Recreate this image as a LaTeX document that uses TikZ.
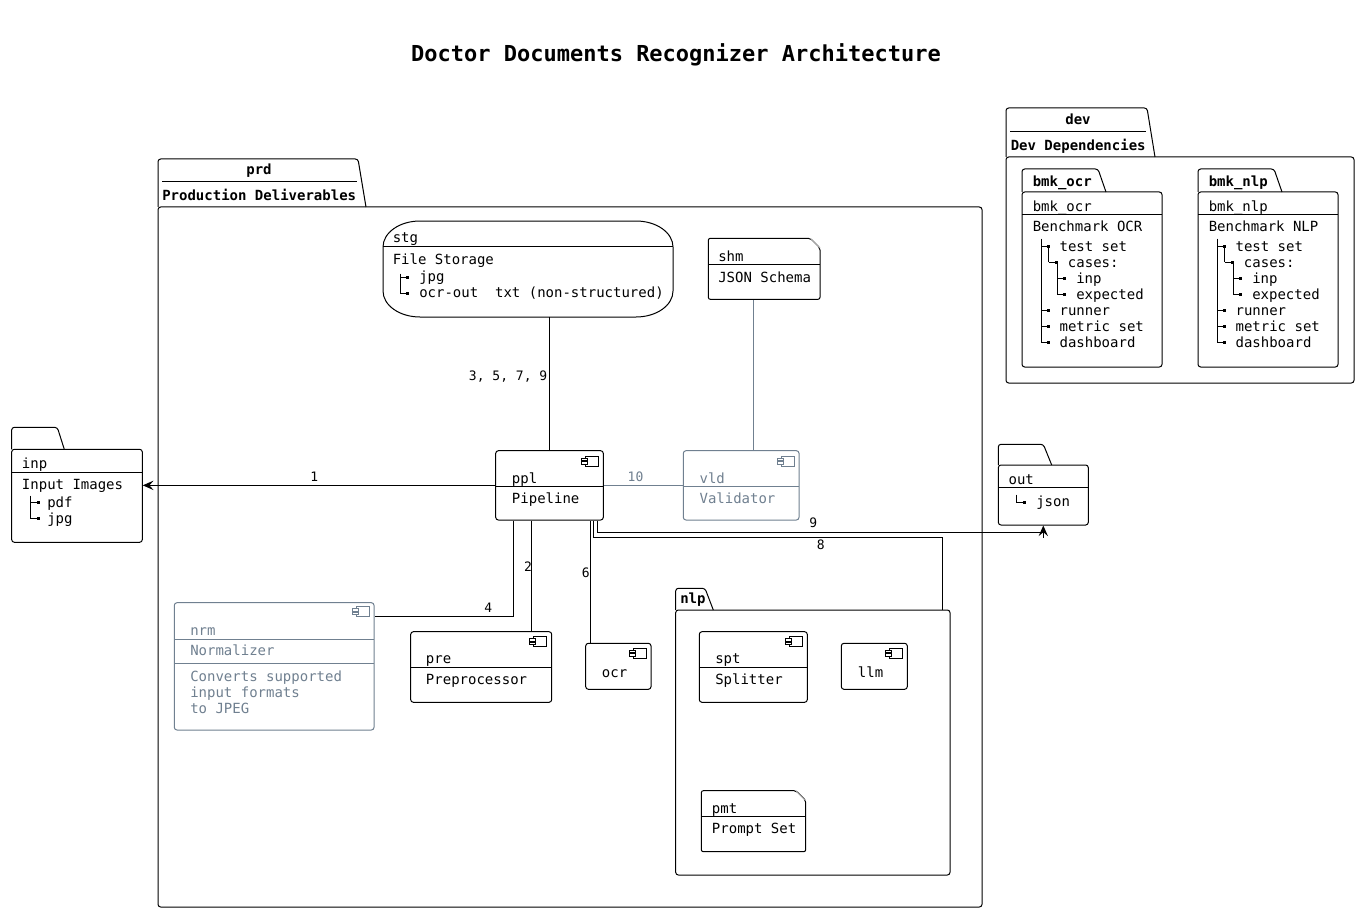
\documentclass[tikz,border=0pt]{standalone}
\usepackage{fontspec}
\setmainfont{DejaVu Sans Mono}
\setmonofont{DejaVu Sans Mono}
\usetikzlibrary{fit,calc,arrows.meta}
\definecolor{slate}{HTML}{708090}
\tikzset{
  txt/.style={inner sep=0pt, anchor=base west, font=\fontsize{10.5}{12}\selectfont},
  btxt/.style={inner sep=0pt, anchor=base west, font=\fontsize{10.5}{12}\selectfont\bfseries},
  lbl/.style={inner sep=0pt, anchor=base, font=\fontsize{9.75}{11}\selectfont},
  ln/.style={line width=0.75pt},
  box/.style={draw, line width=0.75pt, rounded corners=2pt, inner sep=0pt},
  pkgbody/.style={draw, line width=0.75pt, rounded corners=2pt, inner sep=0pt},
  arr/.style={-{Stealth[length=8pt,width=7pt,inset=3pt]}}
}
% component icon, #2,#3 = top-right corner of icon
\newcommand\ficon[3][black]{%
  \draw[#1, line width=0.6pt, fill=white] (#2-13,#3) rectangle (#2,#3+10);
  \draw[#1, line width=0.6pt, fill=white] (#2-17,#3+2) rectangle (#2-11,#3+4.5);
  \draw[#1, line width=0.6pt, fill=white] (#2-17,#3+5.5) rectangle (#2-11,#3+8);
}
\newcommand\bul[2]{\fill (#1-1.5,#2-1.5) rectangle (#1+1.5,#2+1.5);}
\newcommand\trtick[3]{\draw[ln] (#1,#3) -- (#2,#3); \bul{#2+0.5}{#3}}
\newcommand\bmkpkg[4]{%
\begin{scope}[shift={(#1,0)}]
  \draw[ln, rounded corners=2pt] (1022,192) rectangle (1162,367);
  \draw[ln, rounded corners=2pt] (1022,192) -- (1022,169) -- (1098,169) -- (1106,192);
  \node[btxt] (#2tab) at (1032.5,186) {#3};
  \node[txt] (#2name) at (1032.5,211) {#3};
  \draw[ln] (1022,214.3) -- (1162,214.3);
  \node[txt] (#2desc) at (1032.5,232) {#4};
  \draw[ln] (1041,238.5) -- (1041,342.2);
  \trtick{1041}{1047.5}{246.2}
  \trtick{1041}{1047.5}{310.2}
  \trtick{1041}{1047.5}{326.2}
  \trtick{1041}{1047.5}{342.2}
  \draw[ln] (1048.5,247) -- (1048.5,262.2);
  \trtick{1048.5}{1055.5}{262.2}
  \draw[ln] (1057,263) -- (1057,294.2);
  \trtick{1057}{1063.5}{278.2}
  \trtick{1057}{1063.5}{294.2}
  \node[txt] (#2a) at (1059.3,251.2) {test set};
  \node[txt] (#2b) at (1067.7,267.2) {cases:};
  \node[txt] (#2c) at (1076,283.2) {inp};
  \node[txt] (#2d) at (1076,299.2) {expected};
  \node[txt] (#2e) at (1059.3,315.2) {runner};
  \node[txt] (#2f) at (1059.3,331.2) {metric set};
  \node[txt] (#2g) at (1059.3,347.2) {dashboard};
\end{scope}}
\begin{document}
\begin{tikzpicture}[x=0.75pt,y=-0.75pt]
\useasboundingbox[fill=white] (0,0) rectangle (1360,913);

% title
\node[inner sep=0pt, anchor=base, font=\fontsize{16.5}{20}\selectfont\bfseries] (title) at (676,61.5) {Doctor Documents Recognizer Architecture};

% ---------- prd package
\node[pkgbody, fit={(158,207) (982,907)}] (prd) {};
\draw[ln, rounded corners=2pt] (158,207) -- (158,159) -- (358,159) -- (366,207);
\node[btxt, anchor=base] (prdname) at (259,175) {prd};
\draw[ln] (162,182) -- (357,182);
\node[btxt] (prdlabel) at (162,200.3) {Production Deliverables};

% ---------- dev package
\node[pkgbody, fit={(1006,157) (1354,383)}] (dev) {};
\draw[ln, rounded corners=2pt] (1006,157) -- (1006,108) -- (1147,108) -- (1155,157);
\node[btxt, anchor=base] (devname) at (1078,124.5) {dev};
\draw[ln] (1010,132) -- (1146,132);
\node[btxt] (devlabel) at (1010.5,150.5) {Dev Dependencies};

\bmkpkg{0}{bo}{bmk\_ocr}{Benchmark OCR}
\bmkpkg{176}{bn}{bmk\_nlp}{Benchmark NLP}

% ---------- stg
\node[inner sep=0pt, fit={(383,221) (673,317)}] (stg) {};
\draw[ln] (420,221) -- (636,221) .. controls (656.4,221) and (673,232.6) .. (673,247)
  -- (673,291) .. controls (673,305.4) and (656.4,317) .. (636,317)
  -- (420,317) .. controls (399.6,317) and (383,305.4) .. (383,291)
  -- (383,247) .. controls (383,232.6) and (399.6,221) .. (420,221) -- cycle;
\draw[ln] (383,246.5) -- (673,246.5);
\node[txt] (stgname) at (392.5,243) {stg};
\node[txt] (stgdesc) at (392.5,264.3) {File Storage};
\draw[ln] (400.5,273.5) -- (400.5,293.5);
\trtick{400.5}{407}{277.5}
\trtick{400.5}{407}{293.5}
\node[txt] (stga) at (419,281.5) {jpg};
\node[txt] (stgb) at (419,297.5) {ocr-out~~txt (non-structured)};

% ---------- shm document
\node[inner sep=0pt, fit={(708.3,238.3) (820,299.3)}] (shm) {};
\draw[ln, rounded corners=1.5pt] (810.3,238.3) -- (820,248) -- (820,299.3) -- (708.3,299.3) -- (708.3,238.3) -- cycle;
\draw[line width=0.6pt, black!35] (810.3,238.3) -- (820,248);
\draw[ln] (708.3,264.5) -- (820,264.5);
\node[txt] (shmname) at (718,262) {shm};
\node[txt] (shmdesc) at (718,282.5) {JSON Schema};

% ---------- ppl
\node[box, fit={(495.7,450.7) (603.3,520)}] (ppl) {};
\draw[ln] (495.7,486.7) -- (603.3,486.7);
\ficon{598.3}{456}
\node[txt] (pplname) at (511.7,483.3) {ppl};
\node[txt] (ppldesc) at (511.7,503) {Pipeline};

% ---------- vld
\node[box, draw=slate, fit={(683.3,450.7) (799,520)}] (vld) {};
\draw[ln, slate] (683.3,486.7) -- (799,486.7);
\ficon[slate]{794.3}{456}
\node[txt, text=slate] (vldname) at (699.3,483.3) {vld};
\node[txt, text=slate] (vlddesc) at (699.3,503) {Validator};

% ---------- inp package
\node[pkgbody, fit={(11.7,449.3) (142.3,542.3)}] (inp) {};
\draw[ln, rounded corners=2pt] (11.7,449.3) -- (11.7,427.3) -- (57.3,427.3) -- (64.3,449.3);
\draw[ln] (11.7,472.3) -- (142.3,472.3);
\node[txt] (inpname) at (21.7,468.7) {inp};
\node[txt] (inpdesc) at (21.7,489.3) {Input Images};
\draw[ln] (30.5,495.5) -- (30.5,518.5);
\trtick{30.5}{37.5}{502.5}
\trtick{30.5}{37.5}{518.5}
\node[txt] (inpa) at (47,507) {pdf};
\node[txt] (inpb) at (47,523) {jpg};

% ---------- out package
\node[pkgbody, fit={(998.3,465) (1088.3,525)}] (out) {};
\draw[ln, rounded corners=2pt] (998.3,465) -- (998.3,444.3) -- (1043.3,444.3) -- (1051.7,465);
\draw[ln] (998.3,487.7) -- (1088.3,487.7);
\node[txt] (outname) at (1008.3,484.8) {out};
\draw[ln] (1016.5,494.5) -- (1016.5,502.5);
\trtick{1016.5}{1023.5}{502.5}
\node[txt] (outa) at (1036,506.5) {json};

% ---------- nrm
\node[box, draw=slate, fit={(174.3,602.7) (374,730)}] (nrm) {};
\draw[ln, slate] (174.3,639.3) -- (374,639.3);
\draw[ln, slate] (174.3,663.3) -- (374,663.3);
\ficon[slate]{369.3}{606.7}
\node[txt, text=slate] (nrmname) at (190,635.5) {nrm};
\node[txt, text=slate] (nrmdesc) at (190,655.5) {Normalizer};
\node[txt, text=slate] (nrma) at (190,681.2) {Converts supported};
\node[txt, text=slate] (nrmb) at (190,697.2) {input formats};
\node[txt, text=slate] (nrmc) at (190,713.2) {to JPEG};

% ---------- pre
\node[box, fit={(410.7,631.7) (551.7,702.3)}] (pre) {};
\draw[ln] (410.7,667.3) -- (551.7,667.3);
\ficon{546.7}{636.7}
\node[txt] (prename) at (425.7,663.8) {pre};
\node[txt] (predesc) at (425.7,684.5) {Preprocessor};

% ---------- ocr
\node[box, fit={(585.7,643.3) (651,689.3)}] (ocr) {};
\ficon{646.7}{648.3}
\node[txt] (ocrname) at (601.7,677.2) {ocr};

% ---------- nlp package
\node[pkgbody, fit={(675.7,610) (950,875)}] (nlp) {};
\draw[ln, rounded corners=2pt] (675.7,610) -- (675.7,588.3) -- (705,588.3) -- (713.3,610);
\node[btxt] (nlpname) at (680,603) {nlp};

% spt
\node[box, fit={(699.3,631.7) (807.3,702.3)}] (spt) {};
\draw[ln] (699.3,667.7) -- (807.3,667.7);
\ficon{802.7}{636.7}
\node[txt] (sptname) at (715,663.8) {spt};
\node[txt] (sptdesc) at (715,684.5) {Splitter};

% llm
\node[box, fit={(841.3,643.3) (907.3,689.3)}] (llm) {};
\ficon{902.7}{648.3}
\node[txt] (llmname) at (857.7,677.2) {llm};

% pmt
\node[inner sep=0pt, fit={(701.3,790.7) (805.7,851.7)}] (pmt) {};
\draw[ln, rounded corners=1.5pt] (796,790.7) -- (805.7,800.4) -- (805.7,851.7) -- (701.3,851.7) -- (701.3,790.7) -- cycle;
\draw[line width=0.6pt, black!35] (796,790.7) -- (805.7,800.4);
\draw[ln] (701.3,816.7) -- (805.7,816.7);
\node[txt] (pmtname) at (711.7,813.2) {pmt};
\node[txt] (pmtdesc) at (711.7,833.8) {Prompt Set};

% ---------- connectors
% stg -- ppl
\draw[ln] (ppl.north) -- (ppl.north |- stg.south);
\node[lbl, anchor=base east] (l3579) at (547.5,380.7) {3, 5, 7, 9};

% shm -- vld
\coordinate (cv) at (753.3,0);
\draw[line width=0.75pt, slate] (vld.north -| cv) -- (shm.south -| cv);

% 10
\draw[line width=0.75pt, slate] (ppl.east) -- (vld.west);
\node[lbl, text=slate] (l10) at (635.5,481) {10};

% 1
\draw[ln, arr] (ppl.west) -- (ppl.west -| inp.east);
\node[lbl] (l1) at (314.3,481) {1};

% 4
\coordinate (b4) at ($(nrm.north east)+(0,14.6)$);
\draw[ln] ($(ppl.south west)+(18.6,0)$) |- (b4);
\node[lbl] (l4) at (488.3,612.7) {4};

% 2
\coordinate (s2) at ($(ppl.south west)+(36.3,0)$);
\draw[ln] (s2) -- (s2 |- pre.north);
\node[lbl] (l2) at (528,571.5) {2};

% 6
\coordinate (s6) at ($(ppl.south west)+(95,0)$);
\draw[ln] (s6) -- (s6 |- ocr.north);
\node[lbl] (l6) at (585.7,577.7) {6};

% 8
\coordinate (b8) at (942,537.7);
\draw[ln] ($(ppl.south west)+(98.6,0)$) |- (b8) -- (b8 |- nlp.north);
\node[lbl] (l8) at (820.7,549.5) {8};

% 9
\coordinate (b9) at (1043.3,532.3);
\draw[ln] ($(ppl.south west)+(102.6,0)$) |- (b9);
\draw[ln, arr] ($(b9)+(0,5.5)$) -- (b9 |- out.south);
\node[lbl] (l9) at (813.3,527.8) {9};

\end{tikzpicture}
\end{document}
